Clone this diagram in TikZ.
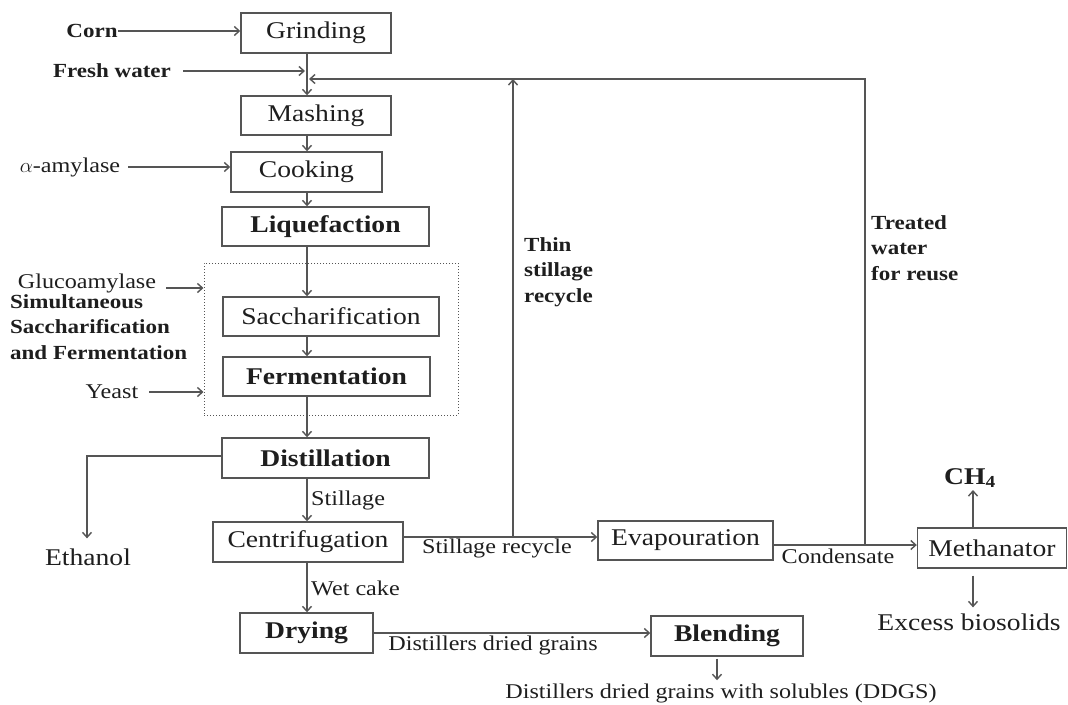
\documentclass[tikz,border=0pt]{standalone}
\usepackage{fontspec}
\setmainfont{Liberation Serif}[FakeStretch=1.15]
\usetikzlibrary{arrows.meta}
\definecolor{lncol}{HTML}{555555}
\definecolor{txcol}{HTML}{1E1E1E}
\begin{document}
\begin{tikzpicture}[x=1pt,y=-1pt,
  box/.style={draw=lncol, line width=1.4pt, minimum height=40pt, inner sep=0pt, text=txcol, font=\fontsize{24}{28}\selectfont},
  bbox/.style={box, font=\fontsize{24}{28}\selectfont\bfseries},
  lbl/.style={inner sep=0pt, text=txcol, font=\fontsize{21}{25}\selectfont},
  blbl/.style={lbl, font=\fontsize{20}{25}\selectfont\bfseries},
  big/.style={inner sep=0pt, text=txcol, font=\fontsize{24}{28}\selectfont},
  bigb/.style={inner sep=0pt, text=txcol, font=\fontsize{24}{28}\selectfont\bfseries},
  multi/.style={inner sep=0pt, text=txcol, align=left, font=\fontsize{20}{25.5}\selectfont\bfseries},
  arr/.style={draw=lncol, line width=1.4pt, -{Straight Barb[length=5pt,width=9pt]}},
  ssfbox/.style={draw=lncol, line width=1pt, dotted, inner sep=0pt}
]
\useasboundingbox (0,0) rectangle (1068,704);

% main process boxes
\node[box, minimum width=150pt] (grind) at (316,33) {Grinding};
\node[box, minimum width=150pt, minimum height=39pt] (mash) at (316,115.5) {Mashing};
\node[box, minimum width=151pt] (cook) at (306.5,172) {Cooking};
\node[bbox, minimum width=207pt, minimum height=39pt] (liq) at (325.5,226.5) {Liquefaction};
\node[ssfbox, minimum width=254pt, minimum height=152pt] (ssf) at (331,339) {};
\node[box, minimum width=216pt, minimum height=39pt] (sacch) at (331,316.5) {Saccharification};
\node[bbox, minimum width=207pt, minimum height=39pt] (ferm) at (326.5,376.5) {Fermentation};
\node[bbox, minimum width=207pt] (dist) at (325.5,458) {Distillation};
\node[box, minimum width=190pt] (cent) at (308,542) {Centrifugation};
\node[bbox, minimum width=133pt] (dry) at (306.5,633) {Drying};
\node[box, minimum width=175pt, minimum height=39pt] (evap) at (685.5,540.5) {Evapouration};
\node[bbox, minimum width=152pt] (blend) at (727,636) {Blending};
\node[box, minimum width=149pt] (meth) at (992,548) {Methanator};

% inputs and outputs
\node[blbl] (corn) at (92,31) {Corn};
\node[blbl] (fw) at (112,71) {Fresh water};
\node[lbl] (amy) at (70,167) {$\alpha$-amylase};
\node[lbl] (gluco) at (87,283) {Glucoamylase};
\node[multi, anchor=north west] (ssflbl) at (10,294) {Simultaneous\\Saccharification\\and Fermentation};
\node[lbl] (yeast) at (112,392) {Yeast};
\node[big] (eth) at (88,557) {Ethanol};
\node[bigb] (ch4) at (970,478) {CH\textsubscript{4}};
\node[big] (excess) at (969,622) {Excess biosolids};
\node[lbl] (ddgs) at (721,693) {Distillers dried grains with solubles (DDGS)};

% flow labels
\node[lbl, anchor=west] (lstill) at (311,500) {Stillage};
\node[lbl, anchor=west] (lwet) at (311,588) {Wet cake};
\node[lbl] (lsrec) at (497,548) {Stillage recycle};
\node[lbl] (lcond) at (838,556) {Condensate};
\node[lbl] (lddg) at (493,645) {Distillers dried grains};
\node[multi, anchor=north west] (lthin) at (524,237) {Thin\\stillage\\recycle};
\node[multi, anchor=north west] (ltreat) at (871,215) {Treated\\water\\for reuse};

% helper coordinates
\coordinate (mainx) at (307,0);
\coordinate (topy) at (0,79);
\coordinate (sjoin) at (513,537);
\coordinate (cjoin) at (865,545);
\coordinate (ethc) at (87,456);
\coordinate (methx) at (973,0);
\coordinate (dryy) at (0,633);
\coordinate (glucy) at (0,288);
\coordinate (blendx) at (717,0);

% main line arrows
\draw[arr] (mainx |- grind.south) -- (mainx |- mash.north);
\draw[arr] (mainx |- mash.south) -- (mainx |- cook.north);
\draw[arr] (mainx |- cook.south) -- (mainx |- liq.north);
\draw[arr] (mainx |- liq.south) -- (mainx |- sacch.north);
\draw[arr] (mainx |- sacch.south) -- (mainx |- ferm.north);
\draw[arr] (mainx |- ferm.south) -- (mainx |- dist.north);
\draw[arr] (mainx |- dist.south) -- (mainx |- cent.north);
\draw[arr] (mainx |- cent.south) -- (mainx |- dry.north);

% inputs
\draw[arr] (corn.east) -- (corn.east -| grind.west);
\draw[arr] ([xshift=12pt]fw.east) -- ([xshift=-2pt]fw.east -| mainx);
\draw[arr] ([xshift=8pt]amy.east) -- (amy.east -| cook.west);
\draw[arr] ([xshift=10pt]gluco.east |- glucy) -- (ssf.west |- glucy);
\draw[arr] ([xshift=11pt]yeast.east) -- (yeast.east -| ssf.west);

% ethanol
\draw[arr] (dist.west |- ethc) -- (ethc) -- ([yshift=10pt]ethc |- eth.north);

% stillage recycle and evaporation
\draw[arr] (cent.east |- sjoin) -- (evap.west |- sjoin);
\draw[arr] (sjoin) -- (sjoin |- topy);
\draw[arr] (evap.east |- cjoin) -- (meth.west |- cjoin);
\draw[arr] (cjoin) -- (cjoin |- topy) -- ([xshift=2pt]mainx |- topy);

% methanator outputs
\draw[arr] (methx |- meth.north) -- ([yshift=-2pt]methx |- ch4.south);
\draw[arr] ([yshift=-7pt]methx |- meth.south) -- ([yshift=6pt]methx |- excess.north);

% drying and blending
\draw[arr] (dry.east |- dryy) -- (blend.west |- dryy);
\draw[arr] ([yshift=-2pt]blendx |- blend.south) -- ([yshift=3pt]blendx |- ddgs.north);
\end{tikzpicture}
\end{document}
